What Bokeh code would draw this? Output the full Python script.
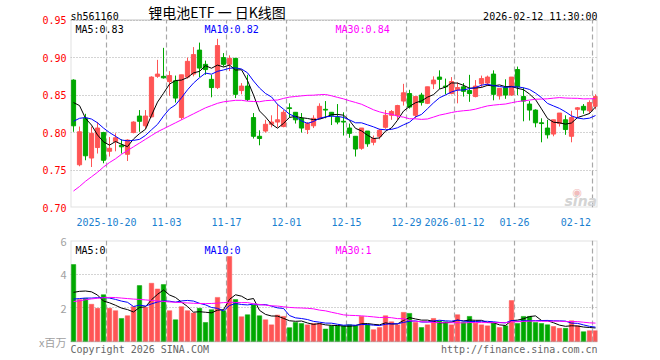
import numpy as np
import pandas as pd
from bokeh.plotting import figure
from bokeh.layouts import column
from bokeh.models import Range1d, FixedTicker, Label, PrintfTickFormatter, BoxAnnotation
from bokeh.embed import file_html
from bokeh.resources import INLINE

# ---------------- data ----------------
holidays = ["2026-01-01", "2026-01-02"]
dates = [d.strftime("%Y-%m-%d") for d in pd.bdate_range("2025-10-10", "2026-02-12")
         if d.strftime("%Y-%m-%d") not in holidays]

open_ = [0.870, 0.757, 0.819, 0.766, 0.780, 0.800, 0.775, 0.788, 0.783, 0.771,
         0.800, 0.822, 0.809, 0.821, 0.875, 0.875, 0.868, 0.869, 0.820, 0.874,
         0.878, 0.910, 0.891, 0.871, 0.860, 0.900, 0.891, 0.899, 0.856, 0.862,
         0.820, 0.795, 0.802, 0.811, 0.814, 0.808, 0.833, 0.827, 0.819, 0.804,
         0.809, 0.819, 0.831, 0.827, 0.820, 0.815, 0.806, 0.795, 0.779, 0.802,
         0.787, 0.795, 0.807, 0.823, 0.823, 0.842, 0.852, 0.823, 0.850, 0.839,
         0.865, 0.874, 0.862, 0.852, 0.857, 0.861, 0.856, 0.848, 0.865, 0.866,
         0.878, 0.849, 0.860, 0.850, 0.884, 0.848, 0.838, 0.830, 0.813, 0.806,
         0.798, 0.812, 0.817, 0.795, 0.831, 0.835, 0.829, 0.835]
high = [0.871, 0.808, 0.825, 0.808, 0.814, 0.801, 0.794, 0.799, 0.791, 0.791,
        0.815, 0.830, 0.830, 0.875, 0.897, 0.913, 0.882, 0.876, 0.877, 0.900,
        0.914, 0.920, 0.896, 0.877, 0.925, 0.906, 0.903, 0.899, 0.866, 0.877,
        0.826, 0.803, 0.817, 0.823, 0.838, 0.830, 0.839, 0.827, 0.826, 0.814,
        0.823, 0.839, 0.842, 0.827, 0.838, 0.827, 0.812, 0.795, 0.806, 0.802,
        0.796, 0.805, 0.830, 0.830, 0.837, 0.865, 0.857, 0.848, 0.853, 0.861,
        0.875, 0.883, 0.872, 0.874, 0.867, 0.866, 0.877, 0.870, 0.876, 0.876,
        0.883, 0.859, 0.871, 0.874, 0.888, 0.860, 0.842, 0.831, 0.819, 0.817,
        0.817, 0.826, 0.823, 0.829, 0.834, 0.838, 0.843, 0.851]
low = [0.801, 0.755, 0.763, 0.754, 0.772, 0.759, 0.768, 0.775, 0.772, 0.762,
       0.799, 0.801, 0.805, 0.820, 0.873, 0.872, 0.849, 0.840, 0.817, 0.872,
       0.875, 0.874, 0.877, 0.847, 0.858, 0.888, 0.882, 0.846, 0.851, 0.842,
       0.792, 0.783, 0.800, 0.807, 0.807, 0.807, 0.820, 0.812, 0.800, 0.798,
       0.806, 0.818, 0.819, 0.810, 0.811, 0.796, 0.793, 0.768, 0.777, 0.781,
       0.783, 0.791, 0.805, 0.817, 0.817, 0.836, 0.832, 0.819, 0.836, 0.838,
       0.858, 0.858, 0.851, 0.851, 0.839, 0.848, 0.841, 0.847, 0.860, 0.862,
       0.843, 0.844, 0.845, 0.849, 0.850, 0.815, 0.816, 0.807, 0.787, 0.792,
       0.795, 0.808, 0.797, 0.787, 0.820, 0.825, 0.825, 0.831]
close = [0.809, 0.801, 0.769, 0.799, 0.806, 0.763, 0.779, 0.793, 0.781, 0.790,
         0.814, 0.815, 0.822, 0.874, 0.878, 0.873, 0.876, 0.846, 0.877, 0.895,
         0.904, 0.886, 0.884, 0.860, 0.916, 0.891, 0.899, 0.851, 0.862, 0.844,
         0.795, 0.792, 0.811, 0.814, 0.817, 0.827, 0.832, 0.817, 0.806, 0.812,
         0.819, 0.835, 0.830, 0.823, 0.814, 0.814, 0.799, 0.778, 0.806, 0.785,
         0.792, 0.803, 0.823, 0.828, 0.836, 0.853, 0.834, 0.848, 0.840, 0.861,
         0.870, 0.871, 0.861, 0.868, 0.860, 0.855, 0.852, 0.862, 0.872, 0.874,
         0.851, 0.859, 0.850, 0.874, 0.861, 0.842, 0.830, 0.813, 0.812, 0.797,
         0.817, 0.826, 0.804, 0.820, 0.833, 0.830, 0.840, 0.848]
volume = [4.57, 2.49, 2.56, 2.21, 1.97, 2.78, 1.97, 1.83, 1.37, 1.53,
          2.07, 3.32, 2.03, 3.46, 3.12, 3.38, 1.83, 1.29, 2.07, 1.83,
          1.69, 1.97, 1.13, 1.89, 2.62, 1.83, 5.05, 2.49, 1.47, 1.59,
          2.17, 1.53, 1.29, 0.99, 1.57, 1.49, 0.82, 1.13, 1.07, 0.99,
          1.07, 1.07, 0.74, 0.93, 0.93, 0.93, 0.99, 0.93, 1.49, 0.99,
          0.70, 0.83, 1.53, 1.17, 0.99, 1.73, 1.67, 1.13, 0.83, 0.99,
          1.37, 1.23, 1.17, 0.99, 1.59, 1.13, 1.49, 1.09, 0.99, 0.93,
          1.09, 0.83, 0.93, 2.43, 1.07, 1.49, 1.49, 1.13, 1.07, 0.99,
          0.89, 0.78, 0.78, 1.23, 0.93, 0.58, 0.64, 0.64]

ma5_head = [0.840, 0.836, 0.819, 0.810]
ma10_head = [0.815, 0.819, 0.820, 0.818, 0.813, 0.806, 0.800, 0.795, 0.790]
ma30_head = [0.722, 0.728, 0.735, 0.741, 0.747, 0.754, 0.760, 0.765, 0.771, 0.776,
             0.781, 0.786, 0.791, 0.796, 0.801, 0.805, 0.809, 0.813, 0.817, 0.821,
             0.825, 0.829, 0.833, 0.836, 0.839, 0.841, 0.842, 0.843, 0.843]
vma5_head = [2.92, 2.98, 3.00, 2.95]
vma10_head = [2.52, 2.55, 2.58, 2.58, 2.60, 2.62, 2.58, 2.50, 2.40]
vma30_head = [2.37, 2.42, 2.48, 2.53, 2.57, 2.60, 2.62, 2.61, 2.58, 2.55,
              2.52, 2.50, 2.47, 2.44, 2.41, 2.38, 2.35, 2.33, 2.31, 2.29,
              2.27, 2.26, 2.25, 2.26, 2.28, 2.31, 2.33, 2.32, 2.31]

price_ticks = [0.70, 0.75, 0.80, 0.85, 0.90, 0.95]
vol_ticks = [0, 2, 4, 6]
vol_tick_labels = {0: "x百万"}
tick_dates = ["2025-10-20", "2025-11-03", "2025-11-17", "2025-12-01", "2025-12-15",
              "2025-12-29", "2026-01-12", "2026-01-26", "2026-02-12"]

code = "sh561160"
title_text = "锂电池ETF 一 日K线图"
stamp = "2026-02-12 11:30:00"
price_ma_labels = ["MA5:0.83", "MA10:0.82", "MA30:0.84"]
vol_ma_labels = ["MA5:0", "MA10:0", "MA30:1"]

# ---------------- derived ----------------
def moving(series, n, head):
    s = pd.Series(series).rolling(n).mean().to_numpy()
    s[:len(head)] = head
    return s

idx = np.arange(len(dates))
o = np.array(open_); c = np.array(close)
up = c >= o
RED = "#ff5555"
GREEN = "#00a800"
colors = [RED if u else GREEN for u in up]

ma5 = moving(close, 5, ma5_head)
ma10 = moving(close, 10, ma10_head)
ma30 = moving(close, 30, ma30_head)
vma5 = moving(volume, 5, vma5_head)
vma10 = moving(volume, 10, vma10_head)
vma30 = moving(volume, 30, vma30_head)

# layout geometry (pixels of the page)
FL, FR = 70, 597          # panel left / right edge
P_TOP, P_BOT = 20, 211    # price panel top / bottom
V_TOP, V_BOT = 240, 341   # volume panel top / bottom
SLOT = 6.0                # pixels per trading day
X0 = FL + SLOT / 2        # centre of first candle

def px(sx):
    return (sx - X0) / SLOT

P_SCALE = (P_BOT - P_TOP) / (price_ticks[-1] - price_ticks[0])
V_SCALE = (V_BOT - V_TOP) / (vol_ticks[-1] - vol_ticks[0])

def py1(sy):
    return price_ticks[-1] - (sy - P_TOP) / P_SCALE

def py2(sy):
    return vol_ticks[-1] - (sy - V_TOP) / V_SCALE

x_start = px(FL)
x_end = px(FR)
line_pos = [dates.index(d) - 0.5 for d in tick_dates]
labels = {}
tick_pos = []
prev_year = None
for d, lp in zip(tick_dates, line_pos):
    yr = d[:4]
    txt = d if (prev_year is None or yr != prev_year) else d[5:]
    prev_year = yr
    half = len(txt) * 6.02 / 2 / SLOT
    pos = min(lp, x_end - half - 1.1)
    tick_pos.append(pos)
    labels[pos] = txt

MONO = "DejaVu Sans Mono"
GRID = "#a8a8a8"
BORDER = "#9a9a9a"

xr = Range1d(x_start, x_end)

# ---------------- price panel ----------------
H1 = 228
p1 = figure(width=660, height=H1, x_range=xr,
            y_range=Range1d(price_ticks[0], py1(0)),
            output_backend="svg", toolbar_location=None,
            min_border_left=FL, min_border_right=660 - FR, min_border_top=0,
            min_border_bottom=H1 - P_BOT)
p1.outline_line_color = None
p1.background_fill_color = "white"
p1.border_fill_color = "white"

p1.yaxis.ticker = FixedTicker(ticks=price_ticks)
p1.yaxis.formatter = PrintfTickFormatter(format="%.2f")
p1.yaxis.major_label_text_color = "#ff0000"
p1.yaxis.major_label_text_font = MONO
p1.yaxis.major_label_text_font_size = "10px"
p1.yaxis.axis_line_color = None
p1.yaxis.major_tick_line_color = None
p1.yaxis.minor_tick_line_color = None
p1.yaxis.major_tick_out = 0
p1.yaxis.major_tick_in = 0
p1.yaxis.minor_tick_out = 0
p1.yaxis.major_label_standoff = 4

p1.xaxis.ticker = FixedTicker(ticks=tick_pos)
p1.xaxis.major_label_overrides = labels
p1.xaxis.major_label_text_color = "#1a7fd0"
p1.xaxis.major_label_text_font = MONO
p1.xaxis.major_label_text_font_size = "10px"
p1.xaxis.axis_line_color = None
p1.xaxis.major_tick_line_color = None
p1.xaxis.minor_tick_line_color = None
p1.xaxis.major_label_standoff = 4

p1.xgrid.visible = False
p1.ygrid.grid_line_color = GRID
p1.ygrid.grid_line_dash = "1 2"

p1.segment(x0=line_pos, y0=price_ticks[0], x1=line_pos, y1=price_ticks[-1],
           line_color=GRID, line_dash="5 3", line_width=1.2)
p1.segment(x0=idx, y0=low, x1=idx, y1=high, color=colors, line_width=1)
p1.vbar(x=idx, width=0.7, top=np.maximum(o, c), bottom=np.minimum(o, c),
        fill_color=colors, line_color=colors, line_width=1)
p1.line(idx, ma5, color="black", line_width=1)
p1.line(idx, ma10, color="#0000ff", line_width=1)
p1.line(idx, ma30, color="#ff00ff", line_width=1)
p1.add_layout(BoxAnnotation(left=x_start, right=x_end, bottom=price_ticks[0], top=price_ticks[-1],
                            fill_color=None, line_color=BORDER, line_width=2))

p1.add_layout(Label(x=px(70), y=py1(16.5), text=code, text_font=MONO, text_font_size="10px",
                    text_color="black", text_align="left", text_baseline="alphabetic"))
p1.add_layout(Label(x=px(216.5), y=py1(11.5), text=title_text, text_font="Noto Sans CJK SC",
                    text_font_size="14px", text_color="black", text_align="center",
                    text_baseline="middle"))
p1.add_layout(Label(x=px(597), y=py1(16.5), text=stamp, text_font=MONO, text_font_size="10px",
                    text_color="black", text_align="right", text_baseline="alphabetic"))
for txt, sx, col in zip(price_ma_labels, [75, 204, 335], ["black", "#0000ff", "#ff00ff"]):
    p1.add_layout(Label(x=px(sx), y=py1(29.3), text=txt, text_font=MONO, text_font_size="10px",
                        text_color=col, text_align="left", text_baseline="alphabetic"))
p1.add_layout(Label(x=px(572), y=py1(196), text="◉", text_font="DejaVu Sans",
                    text_font_size="11px", text_color="#f2bcbc", text_align="left",
                    text_baseline="alphabetic"))
p1.add_layout(Label(x=px(564), y=py1(204), text="sina", text_font="DejaVu Sans",
                    text_font_size="14px", text_font_style="bold italic", text_color="#d4d4d4",
                    text_align="left", text_baseline="alphabetic"))

# ---------------- volume panel ----------------
H2 = 360 - H1
p2 = figure(width=660, height=H2, x_range=xr,
            y_range=Range1d(py2(360), vol_ticks[-1]),
            output_backend="svg", toolbar_location=None,
            min_border_left=FL, min_border_right=660 - FR,
            min_border_top=V_TOP - H1, min_border_bottom=0)
p2.outline_line_color = None
p2.background_fill_color = "white"
p2.border_fill_color = "white"
p2.xaxis.visible = False
p2.yaxis.ticker = FixedTicker(ticks=vol_ticks)
p2.yaxis.major_label_overrides = vol_tick_labels
p2.yaxis.major_label_text_color = "#a0a0a0"
p2.yaxis.major_label_text_font = "Noto Sans CJK SC"
p2.yaxis.major_label_text_font_size = "11px"
p2.yaxis.axis_line_color = None
p2.yaxis.major_tick_line_color = None
p2.yaxis.minor_tick_line_color = None
p2.yaxis.major_tick_out = 0
p2.yaxis.major_tick_in = 0
p2.yaxis.minor_tick_out = 0
p2.yaxis.major_label_standoff = 4

p2.xgrid.visible = False
p2.ygrid.grid_line_color = GRID
p2.ygrid.grid_line_dash = "1 2"

p2.segment(x0=line_pos, y0=vol_ticks[0], x1=line_pos, y1=vol_ticks[-1],
           line_color=GRID, line_dash="5 3", line_width=1.2)
p2.vbar(x=idx, width=0.75, top=volume, bottom=0, fill_color=colors, line_color=colors,
        line_width=0.5)
p2.line(idx, vma5, color="black", line_width=1)
p2.line(idx, vma10, color="#0000ff", line_width=1)
p2.line(idx, vma30, color="#ff00ff", line_width=1)
p2.add_layout(BoxAnnotation(left=x_start, right=x_end, bottom=vol_ticks[0], top=vol_ticks[-1],
                            fill_color=None, line_color=BORDER, line_width=2))

for txt, sx, col in zip(vol_ma_labels, [75, 204, 335], ["black", "#0000ff", "#ff00ff"]):
    p2.add_layout(Label(x=px(sx), y=py2(250), text=txt, text_font=MONO, text_font_size="10px",
                        text_color=col, text_align="left", text_baseline="alphabetic"))
p2.add_layout(Label(x=px(70), y=py2(349), text="Copyright 2026 SINA.COM", text_font=MONO,
                    text_font_size="10px", text_color="#666666", text_align="left",
                    text_baseline="alphabetic"))
p2.add_layout(Label(x=px(597), y=py2(349), text="http://finance.sina.com.cn", text_font=MONO,
                    text_font_size="10px", text_color="#666666", text_align="right",
                    text_baseline="alphabetic"))

layout = column(p1, p2, spacing=0)
open("out.html", "w").write(file_html(layout, INLINE))
